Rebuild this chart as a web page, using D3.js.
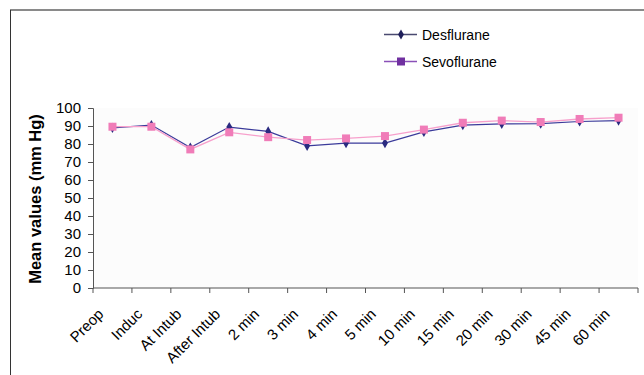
<!DOCTYPE html>
<html>
<head>
<meta charset="utf-8">
<script src="https://cdn.jsdelivr.net/npm/d3@7"></script>
<style>
  body { margin: 0; background: #fff; }
  text { font-family: "Liberation Sans", Arial, sans-serif; }
</style>
</head>
<body>
<div id="chart"></div>
<script>
// Data
const categories = ["Preop", "Induc", "At Intub", "After Intub", "2 min", "3 min", "4 min",
                    "5 min", "10 min", "15 min", "20 min", "30 min", "45 min", "60 min"];
const desflurane = [89, 90.5, 78, 89.4, 87, 79, 80.5, 80.5, 86.7, 90.5, 91.2, 91.3, 92.5, 93];
const sevoflurane = [89.6, 89.6, 77, 86.5, 83.8, 82.2, 83.1, 84.4, 88, 91.8, 93, 92.2, 93.9, 94.6];
const yTicks = [0, 10, 20, 30, 40, 50, 60, 70, 80, 90, 100];

const W = 644, H = 375;
const margin = {top: 108, right: 6, bottom: 87, left: 93};
const width = W - margin.left - margin.right,
      height = H - margin.top - margin.bottom;

const root = d3.select("#chart").append("svg")
  .attr("width", W).attr("height", H);

// Outer chart border (top and left visible)
root.append("line").attr("x1", 10).attr("x2", W).attr("y1", 10).attr("y2", 10)
  .attr("stroke", "#8a8a8a").attr("stroke-width", 2);
root.append("line").attr("x1", 10.5).attr("x2", 10.5).attr("y1", 10).attr("y2", H)
  .attr("stroke", "#333").attr("stroke-width", 1);

const svg = root.append("g").attr("transform", `translate(${margin.left},${margin.top})`);

// Plot area
svg.append("rect").attr("width", width).attr("height", height).attr("fill", "#fcfcfc");

const x = d3.scaleBand().domain(categories).range([0, width]);
const y = d3.scaleLinear().domain([0, 100]).range([height, 0]);

// Y axis
const yAxis = svg.append("g")
  .call(d3.axisLeft(y).tickValues(yTicks).tickSize(5).tickPadding(7));
yAxis.select(".domain").attr("stroke", "#555");
yAxis.selectAll(".tick line").attr("stroke", "#555");
yAxis.selectAll("text").attr("font-size", 15).attr("fill", "#000")
  .attr("font-family", "'Liberation Sans', Arial, sans-serif");

// X axis with ticks between categories
const xAxis = svg.append("g").attr("transform", `translate(0,${height})`);
xAxis.append("line").attr("x1", 0).attr("x2", width).attr("stroke", "#555");
xAxis.selectAll(".xt")
  .data(categories.concat(["_end"]))
  .enter().append("line")
  .attr("class", "xt")
  .attr("x1", (d, i) => i * x.step()).attr("x2", (d, i) => i * x.step())
  .attr("y1", 0).attr("y2", 5).attr("stroke", "#555");
xAxis.selectAll(".xl")
  .data(categories)
  .enter().append("text")
  .attr("class", "xl")
  .attr("transform", d => `translate(${x(d) + x.bandwidth() / 2 - 8},${27}) rotate(-45)`)
  .attr("text-anchor", "end")
  .attr("font-size", 15)
  .text(d => d);

// Y axis title
root.append("text")
  .attr("transform", `translate(41,${margin.top + height / 2 + 1}) rotate(-90)`)
  .attr("text-anchor", "middle")
  .attr("font-size", 16.5)
  .attr("font-weight", "bold")
  .text("Mean values (mm Hg)");

const cx = d => x(d) + x.bandwidth() / 2;
const line = d3.line().x((d, i) => cx(categories[i])).y(d => y(d));

// Desflurane
svg.append("path").datum(desflurane)
  .attr("d", line).attr("fill", "none").attr("stroke", "#3a3a9a").attr("stroke-width", 1.2);
svg.selectAll(".des")
  .data(desflurane).enter().append("path")
  .attr("class", "des")
  .attr("transform", (d, i) => `translate(${cx(categories[i])},${y(d)})`)
  .attr("d", d3.symbol(d3.symbolDiamond, 30))
  .attr("fill", "#2a2a80");

// Sevoflurane
svg.append("path").datum(sevoflurane)
  .attr("d", line).attr("fill", "none").attr("stroke", "#f7a0cc").attr("stroke-width", 1.3);
svg.selectAll(".sevo")
  .data(sevoflurane).enter().append("rect")
  .attr("class", "sevo")
  .attr("x", (d, i) => cx(categories[i]) - 4)
  .attr("y", d => y(d) - 4)
  .attr("width", 8).attr("height", 8)
  .attr("fill", "#f07cb8");

// Legend
const legend = [
  {name: "Desflurane", line: "#4a4a70", mark: "#1f1f5a", sym: "diamond"},
  {name: "Sevoflurane", line: "#8a50b8", mark: "#7030a0", sym: "square"}
];
const lg = root.append("g").attr("transform", "translate(384,34.5)");
legend.forEach((d, i) => {
  const g = lg.append("g").attr("transform", `translate(0,${i * 27})`);
  g.append("line").attr("x1", 0).attr("x2", 33).attr("stroke", d.line).attr("stroke-width", 1.3);
  if (d.sym === "diamond") {
    g.append("path").attr("transform", "translate(17,0)")
      .attr("d", d3.symbol(d3.symbolDiamond, 30)).attr("fill", d.mark);
  } else {
    g.append("rect").attr("x", 13).attr("y", -4).attr("width", 8).attr("height", 8).attr("fill", d.mark);
  }
  g.append("text").attr("x", 38).attr("y", 5).attr("font-size", 14).text(d.name);
});
</script>
</body>
</html>
